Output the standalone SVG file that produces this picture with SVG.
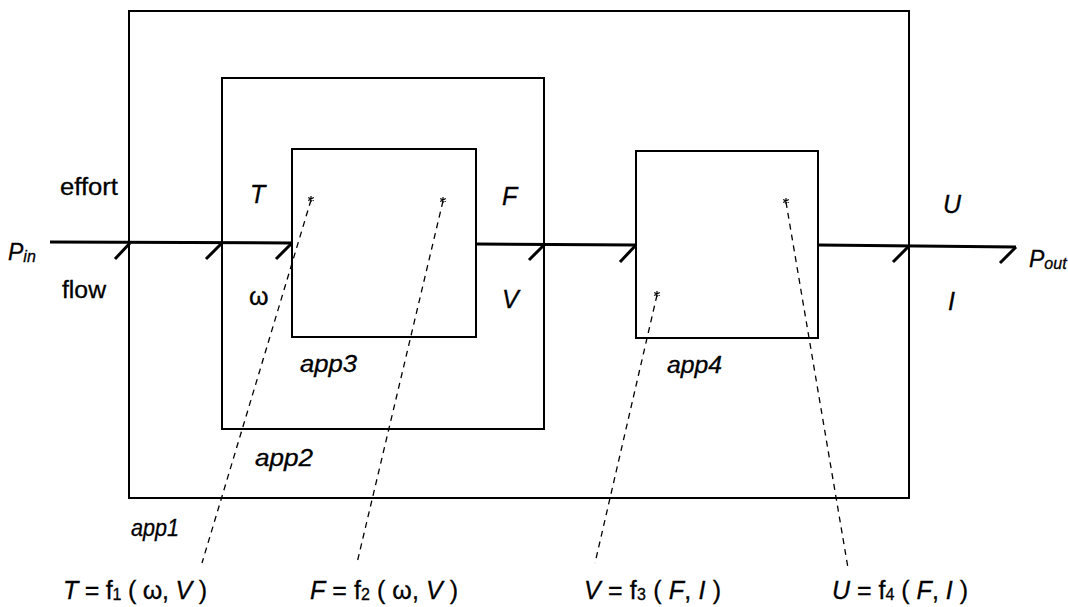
<svg xmlns="http://www.w3.org/2000/svg" width="1068" height="607" viewBox="0 0 1068 607">
<style>
.box{fill:none;stroke:#000;stroke-width:2}
.flow{fill:none;stroke:#000;stroke-width:3}
.tick{stroke:#000;stroke-width:3}
.dash{fill:none;stroke:#000;stroke-width:1.3;stroke-dasharray:6 5}
.star{fill:none;stroke:#000;stroke-width:1.2}
text{font-family:"Liberation Sans",Arial,Helvetica,sans-serif;fill:#000;font-size:23px;stroke:#000;stroke-width:0.3}
.it{font-style:italic}
.big{font-size:25px}
.sub{font-size:16px}
</style>
<defs>
<g id="star"><path class="star" d="M0,-3L0,3M-2.8,-1.5L2.8,1.5M-2.8,1.5L2.8,-1.5"/></g>
</defs>
<rect width="1068" height="607" fill="#fff"/>
<g id="app1">
<rect class="box" x="129" y="11" width="780" height="487"/>
<text class="it" x="131" y="536" textLength="48" lengthAdjust="spacingAndGlyphs">app1</text>
</g>
<g id="app2">
<rect class="box" x="222" y="78" width="322" height="351"/>
<text class="it" x="255" y="466" textLength="58" lengthAdjust="spacingAndGlyphs">app2</text>
</g>
<g id="app3">
<rect class="box" x="292" y="149" width="184" height="188"/>
<text class="it" x="300" y="372" textLength="57" lengthAdjust="spacingAndGlyphs">app3</text>
</g>
<g id="app4">
<rect class="box" x="636" y="151" width="182" height="187"/>
<text class="it" x="667" y="373" textLength="55" lengthAdjust="spacingAndGlyphs">app4</text>
</g>
<g id="connectors">
<path class="flow" d="M50,242L292,243M476,244L636,245M818,245L1016,247"/>
<path class="tick" d="M115,259L130,243M206,259L222,243M276,259L292,243M529,260L545,244M620,262L636,245M893,262L909,246M1000,263L1016,247"/>
<path class="dash" d="M311,200L202,563"/>
<path class="dash" d="M443,201L357,563"/>
<path class="dash" d="M657,295L595,563"/>
<path class="dash" d="M786,202L848,568"/>
<use href="#star" x="311" y="199"/>
<use href="#star" x="443" y="200"/>
<use href="#star" x="657" y="294"/>
<use href="#star" x="786" y="201"/>
</g>
<g id="labels">
<text x="60" y="195" textLength="58" lengthAdjust="spacingAndGlyphs">effort</text>
<text x="62" y="298" textLength="44" lengthAdjust="spacingAndGlyphs">flow</text>
<text class="it" x="8" y="260">P<tspan class="sub" dy="2">in</tspan></text>
<text class="it" x="1029" y="267">P<tspan class="sub" dy="2">out</tspan></text>
<text class="it big" x="250" y="203">T</text>
<text class="big" x="249" y="305">ω</text>
<text class="it big" x="502" y="205">F</text>
<text class="it big" x="502" y="308">V</text>
<text class="it big" x="943" y="213">U</text>
<text class="it big" x="948" y="310">I</text>
</g>
<g id="formulas">
<text class="big" x="63" y="599" textLength="144" lengthAdjust="spacing"><tspan class="it">T</tspan> = f<tspan class="sub" dy="1">1</tspan><tspan dy="-1"> ( ω, </tspan><tspan class="it">V</tspan> )</text>
<text class="big" x="310" y="599" textLength="148" lengthAdjust="spacing"><tspan class="it">F</tspan> = f<tspan class="sub" dy="1">2</tspan><tspan dy="-1"> ( ω, </tspan><tspan class="it">V</tspan> )</text>
<text class="big" x="584" y="599" textLength="137" lengthAdjust="spacing"><tspan class="it">V</tspan> = f<tspan class="sub" dy="1">3</tspan><tspan dy="-1"> ( </tspan><tspan class="it">F</tspan>, <tspan class="it">I</tspan> )</text>
<text class="big" x="832" y="599" textLength="136" lengthAdjust="spacing"><tspan class="it">U</tspan> = f<tspan class="sub" dy="1">4</tspan><tspan dy="-1"> ( </tspan><tspan class="it">F</tspan>, <tspan class="it">I</tspan> )</text>
</g>
</svg>
